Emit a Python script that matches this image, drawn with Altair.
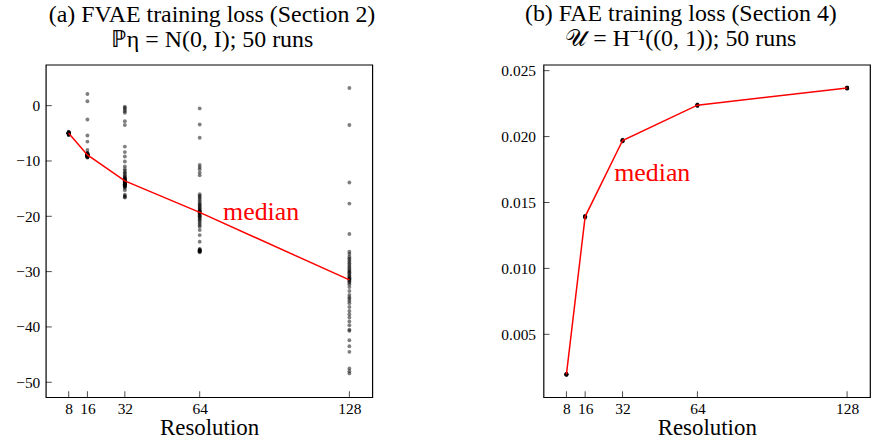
import altair as alt
import pandas as pd

FONT = "Liberation Serif"

resolutions = [8, 16, 32, 64, 128]

# (a) FVAE training loss, individual runs
fvae_8 = [-4.7, -4.8, -4.8, -4.9, -4.9, -4.9, -4.9, -5.0, -5.0, -5.0,
          -5.0, -5.0, -5.0, -5.0, -5.0, -5.0, -5.0, -5.0, -5.0, -5.0,
          -5.0, -5.0, -5.0, -5.0, -5.0, -5.0, -5.0, -5.0, -5.0, -5.0,
          -5.0, -5.0, -5.0, -5.0, -5.0, -5.0, -5.0, -5.0, -5.0, -5.0,
          -5.0, -5.0, -5.1, -5.1, -5.1, -5.1, -5.2, -5.2, -5.3, -5.3]
fvae_16 = [2.1, 0.8, -2.5, -5.4, -6.5, -8.0, -8.5, -8.6, -8.7, -8.7,
           -8.8, -8.8, -8.8, -8.8, -8.9, -8.9, -8.9, -8.9, -8.9, -8.9,
           -8.9, -8.9, -8.9, -8.9, -8.9, -8.9, -9.0, -9.0, -9.0, -9.0,
           -9.0, -9.0, -9.0, -9.0, -9.0, -9.0, -9.0, -9.1, -9.1, -9.1,
           -9.1, -9.1, -9.1, -9.2, -9.2, -9.2, -9.2, -9.3, -9.3, -9.4]
fvae_32 = [-0.2, -0.4, -0.7, -1.0, -1.3, -2.8, -3.5, -7.4, -8.4, -9.2,
           -10.1, -11.0, -11.5, -11.8, -12.1, -12.3, -12.6, -12.8, -13.0, -13.1,
           -13.2, -13.3, -13.4, -13.5, -13.5, -13.7, -13.7, -13.8, -13.8, -13.9,
           -13.9, -14.0, -14.0, -14.1, -14.1, -14.2, -14.2, -14.3, -14.3, -14.4,
           -14.5, -14.5, -14.6, -14.7, -14.9, -15.3, -16.1, -16.3, -16.5, -16.6]
fvae_64 = [-0.5, -3.4, -5.8, -10.7, -11.1, -11.5, -12.1, -12.6, -16.0, -16.3,
           -16.5, -16.8, -17.1, -17.4, -17.7, -17.9, -18.1, -18.3, -18.5, -18.7,
           -18.9, -19.0, -19.1, -19.2, -19.3, -19.4, -19.5, -19.6, -19.8, -20.0,
           -20.1, -20.3, -20.5, -20.7, -21.0, -21.3, -21.6, -21.9, -22.5, -23.4,
           -24.6, -25.9, -26.0, -26.1, -26.2, -26.2, -26.3, -26.3, -26.4, -26.5]
fvae_128 = [3.2, -3.5, -13.9, -17.7, -23.2, -26.4, -26.8, -27.3, -27.6, -27.9,
            -28.2, -28.5, -28.8, -29.1, -29.4, -29.7, -29.9, -30.1, -30.3, -30.6,
            -30.8, -31.0, -31.2, -31.3, -31.4, -31.6, -31.8, -32.0, -32.3, -32.8,
            -33.5, -34.2, -34.6, -34.9, -35.3, -35.7, -36.4, -37.1, -37.7, -38.3,
            -39.0, -39.7, -40.5, -40.7, -42.4, -43.5, -44.5, -47.5, -48.0, -48.4]
fvae_median = [-5.0, -8.9, -13.6, -19.3, -31.5]

# (b) FAE training loss, individual runs
fae_8 = [0.00192, 0.00194, 0.00195, 0.00195, 0.00196, 0.00196, 0.00197, 0.00198, 0.00199, 0.00200]
fae_16 = [0.01385, 0.01388, 0.01390, 0.01391, 0.01392, 0.01393, 0.01394, 0.01395, 0.01397, 0.01399]
fae_32 = [0.01962, 0.01965, 0.01967, 0.01968, 0.01969, 0.01970, 0.01971, 0.01972, 0.01974, 0.01977]
fae_64 = [0.02232, 0.02234, 0.02236, 0.02237, 0.02238, 0.02238, 0.02239, 0.02240, 0.02241, 0.02243]
fae_128 = [0.02363, 0.02365, 0.02366, 0.02367, 0.02368, 0.02368, 0.02369, 0.02370, 0.02371, 0.02373]
fae_median = [0.00196, 0.01393, 0.01970, 0.02238, 0.02368]

fvae_yticks = [-50, -40, -30, -20, -10, 0]
fae_yticks = [0.005, 0.010, 0.015, 0.020, 0.025]

title_a = ["(a) FVAE training loss (Section 2)", "ℙη = N(0, I); 50 runs"]
title_b = ["(b) FAE training loss (Section 4)", "𝒰 = H⁻¹((0, 1)); 50 runs"]

W, H = 328, 334
X_DOMAIN = [-1.8, 137.8]


def runs_frame(lists):
    rows = []
    for r, vals in zip(resolutions, lists):
        for v in vals:
            rows.append({"res": r, "loss": v})
    return pd.DataFrame(rows)


def panel(lists, medians, ydomain, yticks, yfmt, label_pos, title, title_dx, label_pad):
    xs = alt.Scale(domain=X_DOMAIN, nice=False, zero=False)
    ys = alt.Scale(domain=ydomain, nice=False, zero=False)
    xaxis = alt.Axis(
        values=resolutions, format="d", title="Resolution", grid=False, ticks=False,
        domain=False, labelFont=FONT, labelFontSize=15.5, labelColor="black",
        labelPadding=4, labelFlush=False, titleFont=FONT, titleFontSize=23,
        titleFontWeight="normal", titleColor="black", titlePadding=0)
    yaxis = alt.Axis(
        values=yticks, format=yfmt, title=None, grid=False, ticks=False, domain=False,
        labelFont=FONT, labelFontSize=15.5, labelColor="black", labelPadding=label_pad,
        labelFlush=False)
    X = alt.X("res:Q", scale=xs, axis=xaxis)
    Y = alt.Y("loss:Q", scale=ys, axis=yaxis)

    runs = runs_frame(lists)
    med = pd.DataFrame({"res": resolutions, "loss": medians})

    pts = alt.Chart(runs).mark_circle(size=15, color="black", opacity=0.5).encode(x=X, y=Y)
    line = alt.Chart(med).mark_line(color="red", strokeWidth=1.5).encode(x=X, y=Y)
    lab = alt.Chart(pd.DataFrame({"res": [label_pos[0]], "loss": [label_pos[1]], "t": ["median"]})).mark_text(
        font=FONT, fontSize=26, color="red", align="left", baseline="middle"
    ).encode(x=X, y=Y, text="t:N")
    ytk = alt.Chart(pd.DataFrame({"loss": yticks})).mark_tick(
        color="black", size=6, thickness=1, orient="horizontal"
    ).encode(y=Y, x=alt.value(3))
    xtk = alt.Chart(pd.DataFrame({"res": resolutions})).mark_tick(
        color="black", size=6, thickness=1, orient="vertical"
    ).encode(x=X, y=alt.value(H - 3))
    return alt.layer(pts, line, lab, ytk, xtk).properties(
        width=W, height=H,
        title=alt.TitleParams(text=title, font=FONT, fontSize=24, fontWeight="normal",
                              color="black", anchor="middle", frame="group", dx=title_dx,
                              offset=13, lineHeight=25),
    )


left = panel([fvae_8, fvae_16, fvae_32, fvae_64, fvae_128], fvae_median,
             [-52.7, 7.4], fvae_yticks, "d", (74.0, -19.2), title_a, 3, 6)
right = panel([fae_8, fae_16, fae_32, fae_64, fae_128], fae_median,
              [0.00023, 0.02545], fae_yticks, ".3f", (28.4, 0.0172), title_b, -26, 8)

chart = alt.hconcat(left, right, spacing=124).properties(
    padding={"left": 15, "top": 0, "right": 2, "bottom": 0},
    background="white",
).configure_view(stroke="black", strokeWidth=1.2)

chart.save("out.html", embed_options={"renderer": "svg", "actions": False})
